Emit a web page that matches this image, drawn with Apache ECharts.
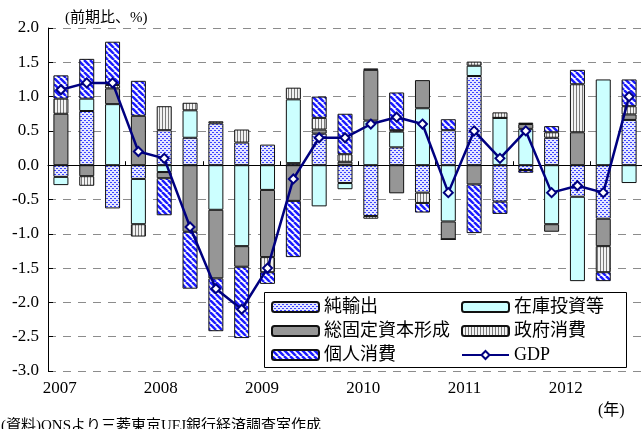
<!DOCTYPE html>
<html>
<head>
<meta charset="utf-8">
<script src="https://cdn.jsdelivr.net/npm/echarts@6/dist/echarts.min.js"></script>
<style>
  html, body { margin: 0; padding: 0; background: #fff; }
  #chart { width: 642px; height: 429px; }
</style>
</head>
<body>
<div id="chart"></div>
<script>
// Quarterly contributions to UK real GDP growth (q/q, %), 2007Q1-2012Q3
const quarters = ['2007Q1','2007Q2','2007Q3','2007Q4','2008Q1','2008Q2','2008Q3','2008Q4',
  '2009Q1','2009Q2','2009Q3','2009Q4','2010Q1','2010Q2','2010Q3','2010Q4',
  '2011Q1','2011Q2','2011Q3','2011Q4','2012Q1','2012Q2','2012Q3'];
const netExports  = [-0.17, 0.79,-0.63,-0.20, 0.51, 0.40, 0.61, 0.33, 0.30, 0.03, 0.46,-0.26,
  -0.74, 0.26,-0.40, 0.51, 1.30,-0.53,-0.07, 0.40,-0.46,-0.78, 0.66];
const inventories = [-0.12, 0.18, 0.89,-0.66,-0.10, 0.40,-0.65,-1.18,-0.36, 0.93,-0.60,-0.09,
   0.65, 0.23, 0.83,-0.82, 0.15, 0.69, 0.53,-0.86,-1.23, 1.25,-0.26];
const fixedCapital = [0.75,-0.16, 0.23, 0.72,-0.09,-0.97,-1.00,-0.30,-0.98,-0.52, 0.06, 0.05,
   0.74,-0.41, 0.41,-0.26,-0.28, 0.00, 0.07,-0.11, 0.48,-0.40, 0.08];
const government  = [0.22,-0.14, 0.05,-0.18, 0.35, 0.11, 0.03, 0.19,-0.22, 0.17, 0.17, 0.11,
  -0.04, 0.02,-0.15, 0.00, 0.06, 0.08, 0.02, 0.08, 0.70,-0.38, 0.12];
const household   = [0.34, 0.58, 0.63, 0.51,-0.54,-0.83,-0.77,-1.04,-0.17,-0.82, 0.31, 0.59,
   0.02, 0.55,-0.14, 0.16,-0.71,-0.18,-0.04, 0.09, 0.21,-0.13, 0.39];
const gdp = [1.1, 1.2, 1.2, 0.2, 0.1,-0.9,-1.8,-2.1,-1.5,-0.2, 0.4, 0.4,
   0.6, 0.7, 0.6,-0.4, 0.5, 0.1, 0.5,-0.4,-0.3,-0.4, 1.0];

const seriesNames = ['純輸出', '在庫投資等', '総固定資本形成', '政府消費', '個人消費', 'GDP'];
const yTicks = { min: -3.0, max: 2.0, step: 0.5 };

const FONT = '"Liberation Serif", "Noto Sans CJK JP", serif';

// Fill patterns for the stacked bars
function pattern(w, h, draw) {
  const c = document.createElement('canvas');
  c.width = w; c.height = h;
  const g = c.getContext('2d');
  draw(g, w, h);
  return { image: c, repeat: 'repeat' };
}
const dotFill = pattern(4, 4, (g) => {
  g.fillStyle = '#e4e6ff'; g.fillRect(0, 0, 4, 4);
  g.fillStyle = '#3c44ff';
  g.fillRect(0, 0, 2, 1); g.fillRect(2, 2, 2, 1);
});
const stripeFill = pattern(3, 1, (g) => {
  g.fillStyle = '#f2f2f2'; g.fillRect(0, 0, 3, 1);
  g.fillStyle = '#7a7a7a'; g.fillRect(0, 0, 1, 1);
});
const hatchFill = pattern(6, 6, (g) => {
  g.fillStyle = '#ffffff'; g.fillRect(0, 0, 6, 6);
  g.strokeStyle = '#1c1cff'; g.lineWidth = 2.5;
  for (const o of [-6, 0, 6]) {
    g.beginPath(); g.moveTo(o, 0); g.lineTo(o + 6, 6); g.stroke();
  }
});

function barSeries(name, data, fill) {
  return {
    name, type: 'bar', stack: 'contrib', data,
    xAxisIndex: 0, yAxisIndex: 0,
    barWidth: 15,
    itemStyle: { color: fill, borderColor: '#111', borderWidth: 1 },
    emphasis: { disabled: true },
    z: 2
  };
}

const chart = echarts.init(document.getElementById('chart'), null, { renderer: 'canvas' });

const legendText = { fontFamily: FONT, fontSize: 18, color: '#000', lineHeight: 20 };

chart.setOption({
  animation: false,
  backgroundColor: '#fff',
  grid: [
    // plot area
    { left: 48, top: 28, width: 599, height: 343, containLabel: false },
    // band that carries the year labels
    { left: 47, top: 28, width: 582, height: 343, containLabel: false }
  ],
  xAxis: [
    {
      // zero line with quarter ticks
      gridIndex: 0, type: 'category', data: quarters, position: 'bottom', boundaryGap: true,
      axisLine: { onZero: true, lineStyle: { color: '#000', width: 1 } },
      axisTick: { show: true, inside: true, length: 4, lineStyle: { color: '#000' } },
      axisLabel: { show: false },
      splitLine: { show: false }
    },
    {
      // year labels under the plot
      gridIndex: 1, type: 'category', data: quarters, position: 'bottom', boundaryGap: true,
      axisLine: { show: false, onZero: false },
      axisTick: { show: false },
      splitLine: { show: false },
      axisLabel: {
        interval: 0, margin: 9,
        fontFamily: FONT, fontSize: 17, color: '#000',
        formatter: (v) => v.endsWith('Q1') ? v.slice(0, 4) : ''
      }
    }
  ],
  yAxis: [
    {
      gridIndex: 0, type: 'value', min: yTicks.min, max: yTicks.max, interval: yTicks.step,
      axisLine: { show: true, lineStyle: { color: '#000', width: 1 } },
      axisTick: { show: true, inside: true, length: 5, lineStyle: { color: '#000' } },
      axisLabel: {
        margin: 9, fontFamily: FONT, fontSize: 17, color: '#000',
        formatter: (v) => v.toFixed(1)
      },
      splitLine: { show: true, lineStyle: { color: '#8c8c8c', type: [8, 7], width: 1 } }
    },
    {
      gridIndex: 1, type: 'value', min: yTicks.min, max: yTicks.max, show: false
    }
  ],
  legend: [
    {
      orient: 'vertical', left: 271, top: 297, padding: 0, itemGap: 4,
      itemWidth: 47, itemHeight: 10, selectedMode: false,
      data: [seriesNames[0], seriesNames[2], seriesNames[4]],
      textStyle: legendText, z: 6
    },
    {
      orient: 'vertical', left: 461, top: 297, padding: 0, itemGap: 4,
      itemWidth: 47, itemHeight: 10, selectedMode: false,
      data: [seriesNames[1], seriesNames[3], seriesNames[5]],
      textStyle: legendText, z: 6
    }
  ],
  graphic: [
    {
      type: 'rect', z: 5,
      shape: { x: 264.5, y: 292.5, width: 362, height: 75 },
      style: { fill: '#fff', stroke: '#000', lineWidth: 1 }
    },
    {
      type: 'text', left: 65, top: 11, z: 5,
      style: { text: '(前期比、%)', font: '15px ' + FONT, fill: '#000' }
    },
    {
      type: 'text', left: 598, top: 403, z: 5,
      style: { text: '(年)', font: '16px ' + FONT, fill: '#000' }
    },
    {
      type: 'text', left: 1, top: 419, z: 5,
      style: { text: '(資料)ONSより三菱東京UFJ銀行経済調査室作成', font: '15px ' + FONT, fill: '#000' }
    }
  ],
  series: [
    barSeries(seriesNames[0], netExports, dotFill),
    barSeries(seriesNames[1], inventories, '#ccffff'),
    barSeries(seriesNames[2], fixedCapital, '#969696'),
    barSeries(seriesNames[3], government, stripeFill),
    barSeries(seriesNames[4], household, hatchFill),
    {
      name: seriesNames[5], type: 'line', data: gdp,
      xAxisIndex: 0, yAxisIndex: 0,
      symbol: 'diamond', symbolSize: 9,
      lineStyle: { color: '#000080', width: 2.5 },
      itemStyle: { color: '#fff', borderColor: '#000080', borderWidth: 2 },
      emphasis: { disabled: true },
      z: 4
    }
  ]
});
</script>
</body>
</html>
